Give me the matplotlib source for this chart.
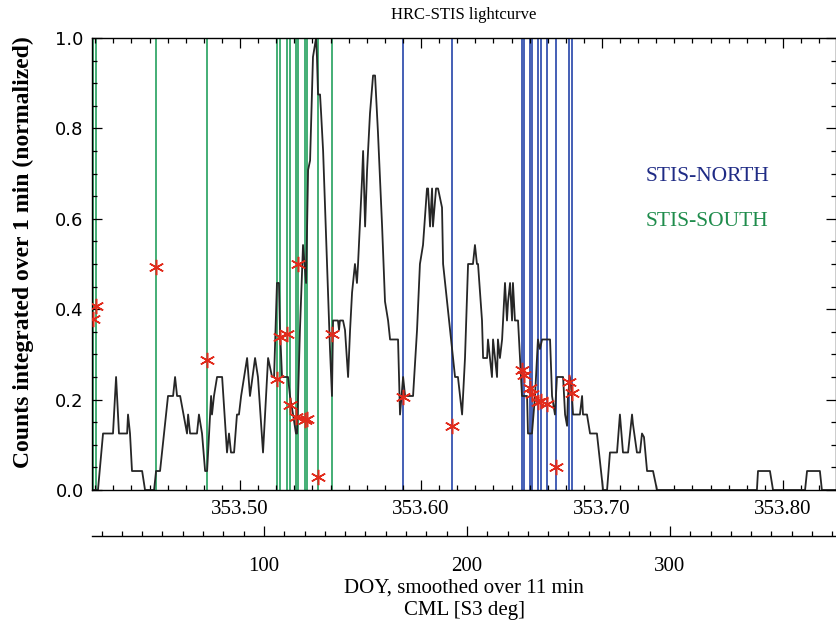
import matplotlib
matplotlib.use("Agg")
import matplotlib.pyplot as plt
from matplotlib.ticker import MultipleLocator, FormatStrFormatter

# HRC lightcurve, counts per 1 min bin (normalized)
doy = [353.4182, 353.4215, 353.4243, 353.4298, 353.4315, 353.4331, 353.4376, 353.4381,
       353.4392, 353.4403, 353.4459, 353.4475, 353.4525, 353.4536, 353.4558, 353.4602,
       353.4630, 353.4641, 353.4652, 353.4669, 353.4707, 353.4713, 353.4724, 353.4762,
       353.4773, 353.4790, 353.4807, 353.4818, 353.4840, 353.4845, 353.4856, 353.4873,
       353.4901, 353.4928, 353.4939, 353.4950, 353.4967, 353.4983, 353.4994, 353.5006,
       353.5039, 353.5055, 353.5083, 353.5099, 353.5127, 353.5149, 353.5155, 353.5177,
       353.5188, 353.5204, 353.5215, 353.5221, 353.5232, 353.5265, 353.5276, 353.5293,
       353.5309, 353.5315, 353.5331, 353.5348, 353.5365, 353.5376, 353.5387, 353.5403,
       353.5420, 353.5425, 353.5431, 353.5442, 353.5448, 353.5459, 353.5481, 353.5497,
       353.5508, 353.5514, 353.5541, 353.5547, 353.5552, 353.5569, 353.5580, 353.5597,
       353.5608, 353.5619, 353.5635, 353.5646, 353.5652, 353.5674, 353.5680, 353.5691,
       353.5702, 353.5718, 353.5735, 353.5746, 353.5762, 353.5785, 353.5801, 353.5818,
       353.5829, 353.5873, 353.5884, 353.5901, 353.5912, 353.5956, 353.5978, 353.5994,
       353.6011, 353.6033, 353.6039, 353.6050, 353.6061, 353.6066, 353.6083, 353.6094,
       353.6116, 353.6122, 353.6133, 353.6160, 353.6177, 353.6188, 353.6204, 353.6227,
       353.6243, 353.6260, 353.6287, 353.6298, 353.6309, 353.6315, 353.6337, 353.6343,
       353.6365, 353.6370, 353.6381, 353.6392, 353.6398, 353.6409, 353.6420, 353.6425,
       353.6436, 353.6448, 353.6464, 353.6475, 353.6481, 353.6492, 353.6503, 353.6508,
       353.6519, 353.6536, 353.6547, 353.6558, 353.6586, 353.6591, 353.6613, 353.6630,
       353.6646, 353.6657, 353.6669, 353.6713, 353.6724, 353.6740, 353.6751, 353.6785,
       353.6796, 353.6807, 353.6812, 353.6823, 353.6834, 353.6840, 353.6878, 353.6890,
       353.6895, 353.6917, 353.6934, 353.6972, 353.6989, 353.7006, 353.7028, 353.7044,
       353.7083, 353.7099, 353.7116, 353.7144, 353.7166, 353.7171, 353.7193, 353.7210,
       353.7221, 353.7232, 353.7249, 353.7282, 353.7304, 353.7856, 353.7862, 353.7928,
       353.7945, 353.8122, 353.8133, 353.8204, 353.8215, 353.8293]
counts = [0.0, 0.0, 0.125, 0.125, 0.25, 0.125, 0.125, 0.167,
          0.125, 0.042, 0.042, 0.0, 0.0, 0.042, 0.042, 0.208,
          0.208, 0.25, 0.208, 0.208, 0.125, 0.167, 0.125, 0.125,
          0.167, 0.125, 0.042, 0.042, 0.208, 0.167, 0.208, 0.25,
          0.25, 0.083, 0.125, 0.083, 0.083, 0.167, 0.167, 0.208,
          0.292, 0.208, 0.292, 0.25, 0.083, 0.25, 0.292, 0.25,
          0.25, 0.458, 0.458, 0.354, 0.25, 0.25, 0.208, 0.167,
          0.125, 0.125, 0.354, 0.542, 0.458, 0.708, 0.729, 0.958,
          1.0, 0.958, 0.875, 0.875, 0.833, 0.75, 0.5, 0.312,
          0.208, 0.375, 0.375, 0.354, 0.375, 0.375, 0.354, 0.25,
          0.354, 0.437, 0.5, 0.458, 0.5, 0.687, 0.75, 0.583,
          0.708, 0.833, 0.917, 0.917, 0.792, 0.583, 0.417, 0.375,
          0.333, 0.333, 0.167, 0.25, 0.208, 0.208, 0.354, 0.5,
          0.542, 0.667, 0.667, 0.583, 0.667, 0.583, 0.667, 0.667,
          0.625, 0.5, 0.458, 0.354, 0.292, 0.25, 0.25, 0.167,
          0.292, 0.5, 0.5, 0.542, 0.5, 0.5, 0.375, 0.292,
          0.292, 0.333, 0.292, 0.25, 0.333, 0.292, 0.25, 0.333,
          0.292, 0.333, 0.458, 0.375, 0.417, 0.458, 0.375, 0.458,
          0.375, 0.375, 0.292, 0.208, 0.208, 0.125, 0.125, 0.208,
          0.333, 0.312, 0.333, 0.333, 0.208, 0.167, 0.25, 0.25,
          0.167, 0.142, 0.208, 0.25, 0.208, 0.167, 0.167, 0.208,
          0.167, 0.167, 0.125, 0.125, 0.062, 0.0, 0.0, 0.083,
          0.083, 0.167, 0.083, 0.083, 0.167, 0.146, 0.083, 0.083,
          0.125, 0.117, 0.042, 0.042, 0.0, 0.0, 0.042, 0.042,
          0.0, 0.0, 0.042, 0.042, 0.0, 0.0]

# STIS exposures (time, brightness marker)
south_doy = [353.4188, 353.4204, 353.4536, 353.4818, 353.5204, 353.5221, 353.5260,
             353.5276, 353.5309, 353.5320, 353.5359, 353.5370, 353.5431, 353.5508]
south_val = [0.379, 0.406, 0.494, 0.288, 0.246, 0.339, 0.346,
             0.188, 0.162, 0.501, 0.155, 0.157, 0.029, 0.346]
north_doy = [353.5901, 353.6171, 353.6558, 353.6569, 353.6602, 353.6613,
             353.6646, 353.6663, 353.6696, 353.6746, 353.6818, 353.6834]
north_val = [0.206, 0.142, 0.266, 0.255, 0.226, 0.213,
             0.195, 0.197, 0.191, 0.051, 0.239, 0.215]

doy_range = (353.4182, 353.8293)
cml_range = (15.3, 381.8)

green = '#35a86a'
blue = '#3653b0'
red = '#e22b1c'

plt.rcParams['font.family'] = ['Liberation Serif', 'DejaVu Serif']

fig = plt.figure(figsize=(8.36, 6.26), dpi=100)
ax = fig.add_axes([92 / 836, 136 / 626, 744 / 836, 452 / 626])

for t in south_doy:
    ax.axvline(t, color=green, lw=1.3, zorder=1)
for t in north_doy:
    ax.axvline(t, color=blue, lw=1.3, zorder=1)

ax.plot(doy, counts, color='#262626', lw=1.3, zorder=2)
ax.plot(south_doy, south_val, ls='none', marker=(6, 2, 0), ms=11,
        mec=red, mew=1.1, zorder=3)
ax.plot(north_doy, north_val, ls='none', marker=(6, 2, 0), ms=11,
        mec=red, mew=1.1, zorder=3)

ax.set_xlim(*doy_range)
ax.set_ylim(0, 1.0)
ax.xaxis.set_major_locator(MultipleLocator(0.1))
ax.xaxis.set_minor_locator(MultipleLocator(0.01))
ax.xaxis.set_major_formatter(FormatStrFormatter('%.2f'))
ax.yaxis.set_major_locator(MultipleLocator(0.2))
ax.yaxis.set_minor_locator(MultipleLocator(0.05))
ax.yaxis.set_major_formatter(FormatStrFormatter('%.1f'))
ax.tick_params(which='both', direction='in', top=True, right=True, width=0.9)
ax.tick_params(which='major', length=7)
ax.tick_params(which='minor', length=3.5)
ax.tick_params(axis='x', labelsize=15, pad=7)
ax.tick_params(axis='y', labelsize=13, pad=6)
for lab in ax.get_yticklabels():
    lab.set_family('DejaVu Sans')
for sp in ax.spines.values():
    sp.set_linewidth(1.0)

ax.text(0.7446, 0.6925, 'STIS-NORTH', color='#1f2b85', fontsize=15.5,
        transform=ax.transAxes, ha='left', va='center')
ax.text(0.7446, 0.593, 'STIS-SOUTH', color='#1f8c4c', fontsize=15.5,
        transform=ax.transAxes, ha='left', va='center')

# second axis: central meridian longitude
cax = fig.add_axes([92 / 836, 90 / 626, 744 / 836, 0.0005])
cax.set_facecolor('none')
for side in ('top', 'left', 'right'):
    cax.spines[side].set_visible(False)
cax.spines['bottom'].set_linewidth(1.0)
cax.set_yticks([])
cax.set_xlim(*cml_range)
cax.xaxis.set_major_locator(MultipleLocator(100))
cax.xaxis.set_minor_locator(MultipleLocator(10))
cax.tick_params(which='both', direction='in', width=0.9)
cax.tick_params(which='major', length=7)
cax.tick_params(which='minor', length=3.5)
cax.tick_params(axis='x', labelsize=15, pad=15)

fig.text(464 / 836, 1 - 15 / 626, 'HRC-STIS lightcurve', fontsize=12,
         ha='center', va='center')
fig.text(23 / 836, 1 - 252 / 626, 'Counts integrated over 1 min (normalized)',
         fontsize=17, fontweight='bold', rotation=90, ha='center', va='center')
fig.text(464 / 836, 1 - 588 / 626, 'DOY, smoothed over 11 min', fontsize=15,
         ha='center', va='center')
fig.text(464 / 836, 1 - 611 / 626, 'CML [S3 deg]', fontsize=15,
         ha='center', va='center')

fig.savefig('out.png', dpi=100)
